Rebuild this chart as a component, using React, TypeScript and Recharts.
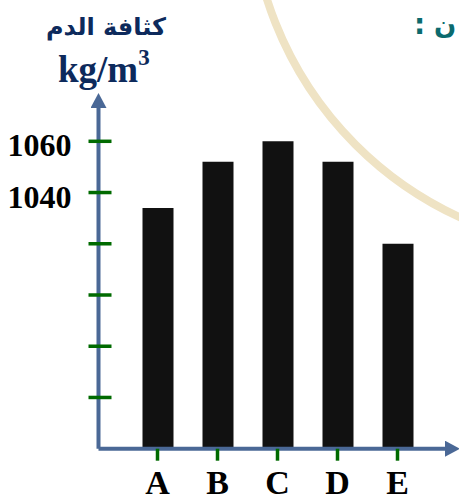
import { BarChart, Bar, XAxis, YAxis } from "recharts";

const categories = ["A", "B", "C", "D", "E"];
const density = [1034, 1052, 1060, 1052, 1020];
const yTicks = [960, 980, 1000, 1020, 1040, 1060];
const labeledTicks = [1040, 1060];

const axisColor = "#4a6896";
const tickGreen = "#006a00";

const data = categories.map((name, i) => ({ name, value: density[i] }));

function YTick(props: any) {
  const { x, y, payload } = props;
  return (
    <g>
      <line x1={x - 10} x2={x + 13} y1={y} y2={y} stroke={tickGreen} strokeWidth={3.5} />
      {labeledTicks.includes(payload.value) && (
        <text x={x - 27} y={y + 15} textAnchor="end" fontFamily="'Liberation Serif', serif" fontWeight="bold" fontSize={32} fill="#000">
          {payload.value}
        </text>
      )}
    </g>
  );
}

function XTick(props: any) {
  const { x, y, payload } = props;
  return (
    <g>
      <line x1={x} x2={x} y1={y} y2={y + 12} stroke={tickGreen} strokeWidth={3.5} />
      <text x={x} y={y + 45} textAnchor="middle" fontFamily="'Liberation Serif', serif" fontWeight="bold" fontSize={34} fill="#000">
        {payload.value}
      </text>
    </g>
  );
}

export default function App() {
  return (
    <div style={{ position: "absolute", left: 0, top: 0, width: 459, height: 500, background: "#fff" }}>
      <svg width={459} height={500} style={{ position: "absolute", left: 0, top: 0 }}>
        <circle cx={610} cy={-110} r={360} fill="none" stroke="#efe3c4" strokeWidth={8} />
        <text x={106} y={35} textAnchor="middle" fontFamily="'DejaVu Sans', sans-serif" fontWeight="bold" fontSize={24} fill="#0d2a5c">
          كثافة الدم
        </text>
        <text x={58} y={82} fontFamily="'Liberation Serif', serif" fontWeight="bold" fontSize={37} fill="#0d2a5c">
          kg/m
          <tspan fontSize={23} dy={-17}>3</tspan>
        </text>
        <text x={414} y={34} fontFamily="'DejaVu Sans', sans-serif" fontWeight="bold" fontSize={28} fill="#0b6a6e">:</text>
        <text x={434} y={34} fontFamily="'DejaVu Sans', sans-serif" fontWeight="bold" fontSize={26} fill="#0b6a6e">ن</text>
      </svg>
      <div style={{ position: "absolute", left: 0, top: 0 }}>
        <BarChart width={459} height={500} data={data} margin={{ top: 108, right: 14, bottom: 0, left: 38.5 }}>
          <defs>
            <marker id="arrowHead" markerUnits="userSpaceOnUse" markerWidth={15} markerHeight={16} refX={0} refY={8} orient="auto-start-reverse">
              <path d="M0,0 L15,8 L0,16 Z" fill={axisColor} />
            </marker>
          </defs>
          <XAxis
            dataKey="name"
            height={51.3}
            padding={{ left: 29, right: 17.5 }}
            axisLine={{ stroke: axisColor, strokeWidth: 4, markerEnd: "url(#arrowHead)" }}
            tickLine={false}
            tickSize={0}
            tickMargin={0}
            tick={<XTick />}
            interval={0}
          />
          <YAxis
            width={60}
            domain={[940, 1073]}
            ticks={yTicks}
            allowDataOverflow
            axisLine={{ stroke: axisColor, strokeWidth: 4, markerStart: "url(#arrowHead)" }}
            tickLine={false}
            tickSize={0}
            tickMargin={0}
            tick={<YTick />}
            interval={0}
          />
          <Bar dataKey="value" fill="#111111" barSize={31} isAnimationActive={false} />
        </BarChart>
      </div>
    </div>
  );
}
